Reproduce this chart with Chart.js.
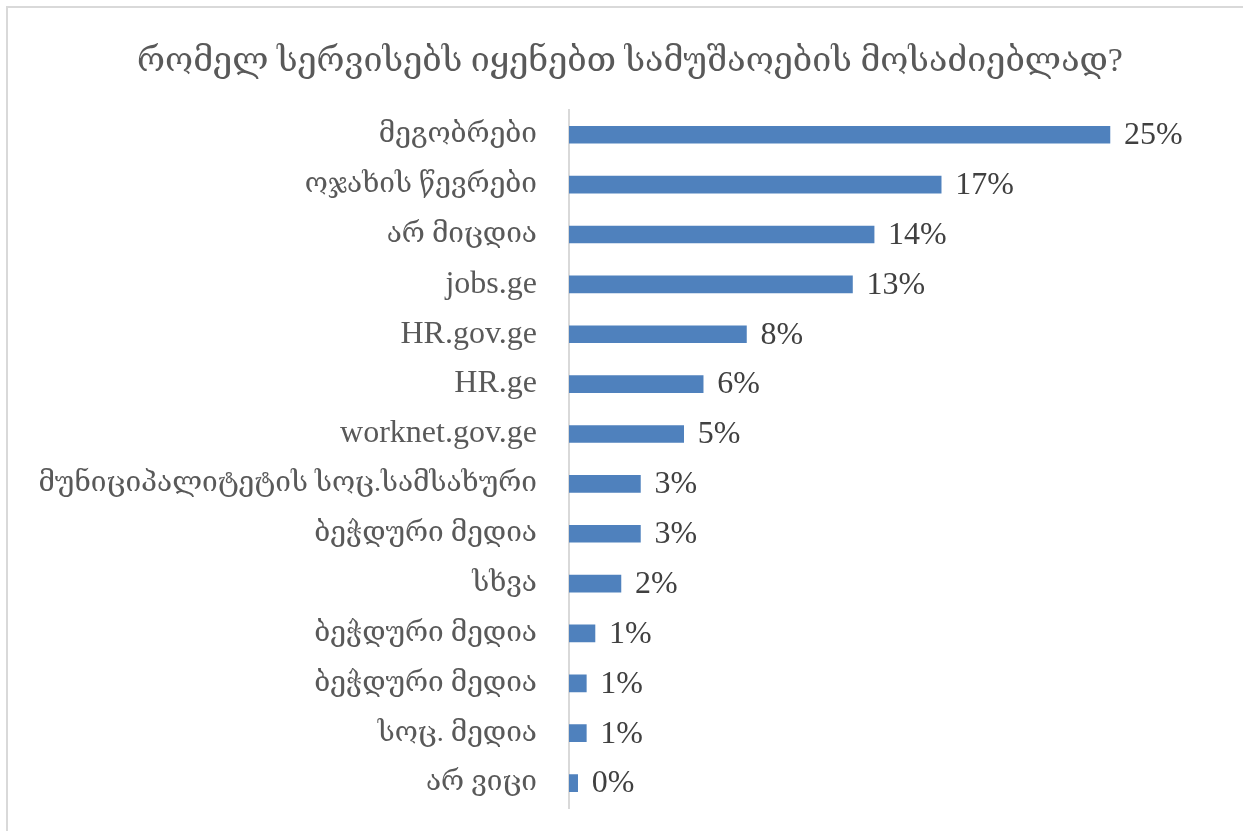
<!DOCTYPE html>
<html>
<head>
<meta charset="utf-8">
<script src="https://cdn.jsdelivr.net/npm/chart.js@4.4.1/dist/chart.umd.min.js"></script>
<style>
  html, body { margin: 0; padding: 0; background: #fff; overflow: hidden; }
  #wrap { position: relative; width: 1243px; height: 831px; overflow: hidden; }
  #frame { position: absolute; left: 6px; top: 6px; width: 1260px; height: 850px; border: 2px solid #d9d9d9; box-sizing: border-box; }
  canvas { position: absolute; left: 0; top: 0; }
</style>
</head>
<body>
<div id="wrap">
  <div id="frame"></div>
  <canvas id="myChart" width="1243" height="831"></canvas>
</div>
<script>
// data
const chartTitle = 'რომელ სერვისებს იყენებთ სამუშაოების მოსაძიებლად?';
const labels = [
  'მეგობრები',
  'ოჯახის წევრები',
  'არ მიცდია',
  'jobs.ge',
  'HR.gov.ge',
  'HR.ge',
  'worknet.gov.ge',
  'მუნიციპალიტეტის სოც.სამსახური',
  'ბეჭდური მედია',
  'სხვა',
  'ბეჭდური მედია',
  'ბეჭდური მედია',
  'სოც. მედია',
  'არ ვიცი'
];
const shares = [25, 17.2, 14.1, 13.1, 8.2, 6.2, 5.3, 3.3, 3.3, 2.4, 1.2, 0.8, 0.8, 0.4];

const serif = "'Liberation Serif', 'DejaVu Serif', serif";

// writes the % value right of every bar
const valueLabels = {
  id: 'valueLabels',
  afterDatasetsDraw(chart) {
    const ctx = chart.ctx;
    const meta = chart.getDatasetMeta(0);
    ctx.save();
    ctx.font = '32px ' + serif;
    ctx.fillStyle = '#404040';
    ctx.textAlign = 'left';
    ctx.textBaseline = 'middle';
    meta.data.forEach((bar, i) => {
      ctx.fillText(Math.round(shares[i]) + '%', bar.x + 14, bar.y + 1);
    });
    ctx.restore();
  }
};

const config = {
  type: 'bar',
  data: {
    labels: labels,
    datasets: [{
      data: shares,
      backgroundColor: '#4f81bd',
      borderWidth: 0,
      barThickness: 17
    }]
  },
  options: {
    indexAxis: 'y',
    responsive: false,
    animation: false,
    // negative right padding keeps the title centred like the original
    layout: { padding: { left: 0, right: -17, top: 0, bottom: 23 } },
    plugins: {
      legend: { display: false },
      tooltip: { enabled: false },
      title: {
        display: true,
        text: chartTitle,
        color: '#595959',
        font: { family: serif, size: 34, weight: 'normal' },
        padding: { top: 42, bottom: 27 }
      }
    },
    scales: {
      x: {
        display: false,
        min: 0,
        max: 31.15
      },
      y: {
        afterFit(scale) {
          scale.width = 569;
          scale.paddingTop = 0;
          scale.paddingBottom = 0;
        },
        grid: { display: false, drawTicks: false },
        border: { display: true, color: '#d9d9d9', width: 2 },
        ticks: {
          color: '#595959',
          padding: 32,
          font: (c) => ({
            family: serif,
            size: /[a-z]/i.test(labels[c.index] || '') ? 32 : 28
          })
        }
      }
    }
  },
  plugins: [valueLabels]
};

const ctx = document.getElementById('myChart').getContext('2d');
new Chart(ctx, config);
</script>
</body>
</html>
